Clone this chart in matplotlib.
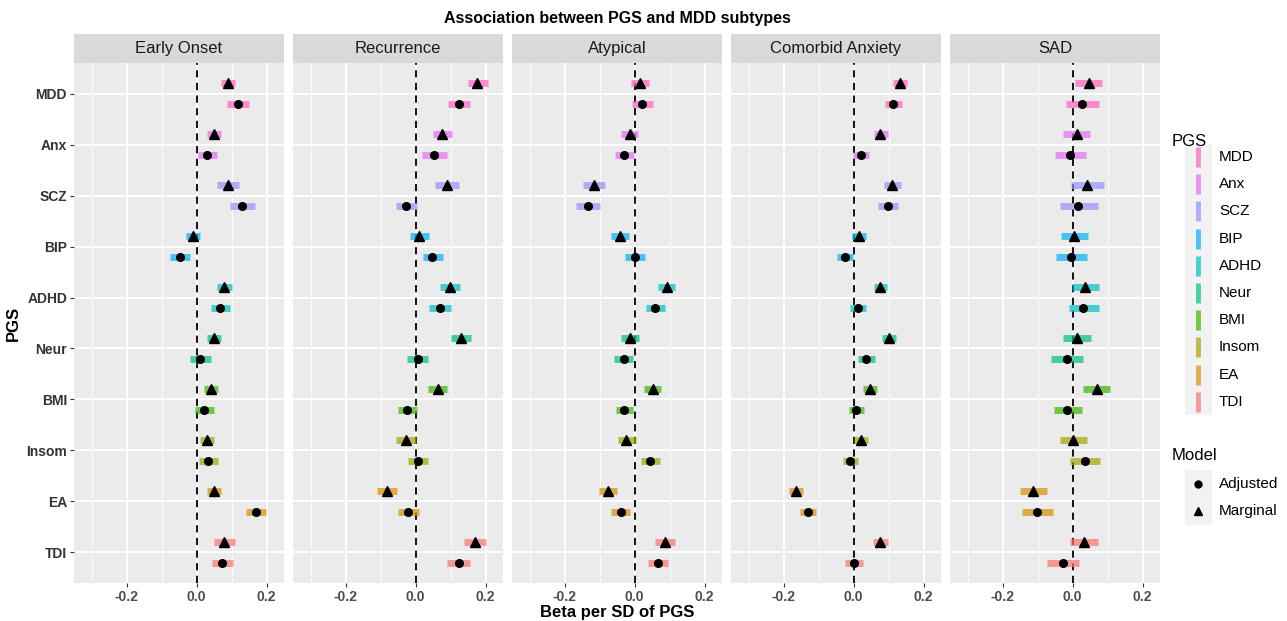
import matplotlib
matplotlib.use("Agg")
from matplotlib import pyplot as plt
from matplotlib.lines import Line2D
from matplotlib.patches import Rectangle

plt.rcParams['font.family'] = ['Liberation Sans', 'DejaVu Sans']

pgs = ["MDD", "Anx", "SCZ", "BIP", "ADHD", "Neur", "BMI", "Insom", "EA", "TDI"]
pgs_colors = ["#FF62BC", "#E76BF3", "#9590FF", "#00B0F6", "#00BFC4",
              "#00BF7D", "#39B600", "#A3A500", "#D89000", "#F8766D"]
subtypes = ["Early Onset", "Recurrence", "Atypical", "Comorbid Anxiety", "SAD"]

# (estimate, lower, upper) per PGS, in the order of `pgs`
early_onset_marginal = [(0.090, 0.070, 0.110), (0.050, 0.030, 0.070), (0.090, 0.059, 0.121),
                        (-0.010, -0.030, 0.010), (0.079, 0.059, 0.100), (0.050, 0.030, 0.070),
                        (0.040, 0.020, 0.060), (0.030, 0.010, 0.050), (0.050, 0.030, 0.070),
                        (0.079, 0.050, 0.110)]
early_onset_adjusted = [(0.119, 0.088, 0.150), (0.030, 0.003, 0.058), (0.131, 0.097, 0.168),
                        (-0.048, -0.076, -0.018), (0.067, 0.040, 0.095), (0.010, -0.019, 0.041),
                        (0.022, -0.005, 0.051), (0.033, 0.007, 0.060), (0.170, 0.141, 0.199),
                        (0.072, 0.043, 0.103)]
recurrence_marginal = [(0.177, 0.149, 0.206), (0.077, 0.050, 0.105), (0.090, 0.055, 0.124),
                       (0.010, -0.017, 0.039), (0.098, 0.070, 0.127), (0.129, 0.100, 0.158),
                       (0.063, 0.035, 0.091), (-0.028, -0.055, 0.000), (-0.082, -0.110, -0.054),
                       (0.170, 0.139, 0.200)]
recurrence_adjusted = [(0.124, 0.092, 0.156), (0.054, 0.019, 0.091), (-0.027, -0.056, 0.005),
                       (0.048, 0.020, 0.078), (0.069, 0.038, 0.100), (0.006, -0.024, 0.036),
                       (-0.023, -0.050, 0.005), (0.006, -0.022, 0.036), (-0.021, -0.050, 0.010),
                       (0.123, 0.091, 0.155)]
atypical_marginal = [(0.015, -0.010, 0.042), (-0.014, -0.039, 0.011), (-0.115, -0.146, -0.084),
                     (-0.041, -0.067, -0.016), (0.092, 0.067, 0.117), (-0.013, -0.039, 0.013),
                     (0.052, 0.028, 0.077), (-0.023, -0.048, 0.003), (-0.075, -0.101, -0.050),
                     (0.088, 0.059, 0.115)]
atypical_adjusted = [(0.022, -0.008, 0.053), (-0.030, -0.056, -0.001), (-0.133, -0.168, -0.099),
                     (0.000, -0.028, 0.029), (0.059, 0.032, 0.087), (-0.031, -0.060, -0.003),
                     (-0.030, -0.053, -0.003), (0.045, 0.019, 0.072), (-0.040, -0.068, -0.012),
                     (0.068, 0.038, 0.097)]
comorbid_marginal = [(0.133, 0.113, 0.154), (0.077, 0.058, 0.098), (0.111, 0.088, 0.136),
                     (0.017, -0.004, 0.036), (0.077, 0.058, 0.097), (0.101, 0.080, 0.122),
                     (0.048, 0.028, 0.068), (0.021, 0.001, 0.041), (-0.163, -0.184, -0.143),
                     (0.077, 0.055, 0.099)]
comorbid_adjusted = [(0.114, 0.089, 0.139), (0.021, -0.001, 0.045), (0.099, 0.070, 0.128),
                     (-0.025, -0.048, -0.002), (0.013, -0.010, 0.036), (0.037, 0.013, 0.061),
                     (0.008, -0.014, 0.029), (-0.009, -0.031, 0.014), (-0.130, -0.154, -0.107),
                     (0.002, -0.023, 0.028)]
sad_marginal = [(0.047, 0.008, 0.085), (0.012, -0.027, 0.051), (0.042, -0.004, 0.089),
                (0.005, -0.034, 0.045), (0.037, -0.001, 0.075), (0.012, -0.028, 0.052),
                (0.070, 0.030, 0.108), (0.001, -0.036, 0.040), (-0.112, -0.150, -0.074),
                (0.033, -0.008, 0.074)]
sad_adjusted = [(0.028, -0.018, 0.076), (-0.006, -0.049, 0.038), (0.017, -0.035, 0.072),
                (-0.004, -0.047, 0.042), (0.031, -0.010, 0.075), (-0.016, -0.061, 0.030),
                (-0.015, -0.054, 0.026), (0.035, -0.007, 0.078), (-0.101, -0.144, -0.057),
                (-0.027, -0.072, 0.019)]

marginal = [early_onset_marginal, recurrence_marginal, atypical_marginal,
            comorbid_marginal, sad_marginal]
adjusted = [early_onset_adjusted, recurrence_adjusted, atypical_adjusted,
            comorbid_adjusted, sad_adjusted]

W, H = 1287, 621
fig = plt.figure(figsize=(W / 100, H / 100), dpi=100)

panel_left = [74, 293, 512, 731, 950]
panel_w = 210
top, bottom, strip_top = 63, 583, 34

def fx(px):
    return px / W

def fy(py):
    return 1 - py / H

grey_txt = "#4D4D4D"
n = len(pgs)
for k, name in enumerate(subtypes):
    ax = fig.add_axes([fx(panel_left[k]), fy(bottom), fx(panel_w), (bottom - top) / H])
    ax.set_facecolor("#EBEBEB")
    for s in ax.spines.values():
        s.set_visible(False)
    ax.set_xlim(-0.35, 0.25)
    ax.set_ylim(0.4, n + 0.6)
    ax.set_xticks([-0.2, 0.0, 0.2])
    ax.set_xticks([-0.3, -0.1, 0.1], minor=True)
    ax.set_xticklabels(["-0.2", "0.0", "0.2"], fontsize=10, fontweight="bold", color=grey_txt)
    ypos = [n - i for i in range(n)]
    ax.set_yticks(ypos)
    ax.grid(which="major", color="white", linewidth=1.3)
    ax.grid(which="minor", axis="x", color="white", linewidth=0.6)
    ax.set_axisbelow(True)
    ax.tick_params(axis="x", which="major", length=3, color="#333333", pad=2)
    ax.tick_params(axis="x", which="minor", length=0)
    if k == 0:
        ax.set_yticklabels(pgs, fontsize=10, fontweight="bold", color="#333333")
        ax.tick_params(axis="y", length=3, color="#333333", pad=2)
        ax.set_ylabel("PGS", fontsize=12, fontweight="bold", labelpad=4)
    else:
        ax.set_yticklabels([])
        ax.tick_params(axis="y", length=0)

    ax.axvline(0, color="black", linestyle=(0, (4, 3)), linewidth=1.3, zorder=2)
    for i in range(n):
        y = ypos[i]
        m_est, m_lo, m_hi = marginal[k][i]
        a_est, a_lo, a_hi = adjusted[k][i]
        ax.plot([m_lo, m_hi], [y + 0.2, y + 0.2], color=pgs_colors[i], alpha=0.7,
                linewidth=5, solid_capstyle="butt", zorder=3)
        ax.plot([a_lo, a_hi], [y - 0.2, y - 0.2], color=pgs_colors[i], alpha=0.7,
                linewidth=5, solid_capstyle="butt", zorder=3)
        ax.plot(m_est, y + 0.2, marker="^", color="black", markersize=6.5, zorder=4)
        ax.plot(a_est, y - 0.2, marker="o", color="black", markersize=5.5, zorder=4)

    sax = fig.add_axes([fx(panel_left[k]), fy(top), fx(panel_w), (top - strip_top) / H])
    sax.set_facecolor("#D9D9D9")
    sax.set_xticks([])
    sax.set_yticks([])
    for s in sax.spines.values():
        s.set_visible(False)
    sax.text(0.5, 0.5, name, ha="center", va="center", fontsize=12, color="#1A1A1A",
             transform=sax.transAxes)

fig.text(fx(617), fy(18), "Association between PGS and MDD subtypes", ha="center",
         va="center", fontsize=11.5, fontweight="bold")
fig.text(fx(617), fy(612), "Beta per SD of PGS", ha="center", va="center",
         fontsize=12, fontweight="bold")

# legends drawn by hand
fig.text(fx(1172), fy(141), "PGS", ha="left", va="center", fontsize=12)
fig.patches.append(Rectangle((fx(1185), fy(415)), fx(27), (415 - 144) / H,
                             transform=fig.transFigure, facecolor="#F2F2F2",
                             edgecolor="none"))
for i, (lab, col) in enumerate(zip(pgs, pgs_colors)):
    yy = 157 + i * 27.2
    fig.lines.append(Line2D([fx(1198), fx(1198)], [fy(yy - 10), fy(yy + 10)],
                            transform=fig.transFigure, color=col, alpha=0.7,
                            linewidth=3.5, solid_capstyle="butt"))
    fig.text(fx(1219), fy(yy), lab, ha="left", va="center", fontsize=11)

fig.text(fx(1172), fy(455), "Model", ha="left", va="center", fontsize=12)
fig.patches.append(Rectangle((fx(1185), fy(525)), fx(27), (525 - 470) / H,
                             transform=fig.transFigure, facecolor="#F2F2F2",
                             edgecolor="none"))
for yy, mk, lab, ms in [(484, "o", "Adjusted", 5), (511, "^", "Marginal", 6)]:
    fig.lines.append(Line2D([fx(1198)], [fy(yy)], transform=fig.transFigure,
                            marker=mk, color="black", markersize=ms, linestyle="none"))
    fig.text(fx(1219), fy(yy), lab, ha="left", va="center", fontsize=11)

fig.savefig("out.png", dpi=100)
